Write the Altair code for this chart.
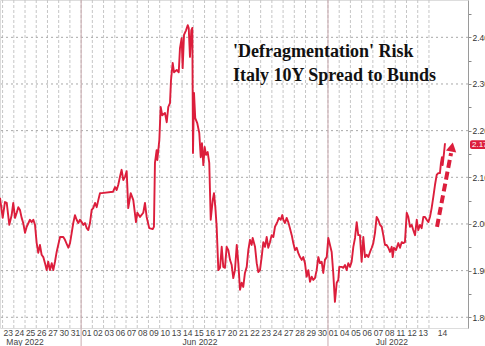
import altair as alt
import pandas as pd

# ---- data ----
# position in trading days (0 = start of 23 May) and spread (%)
t = [-0.23, 0.01, 0.21, 0.37, 0.60, 0.81, 0.95, 1.11, 1.26, 1.40, 1.55, 1.70, 1.84, 2.00, 2.15,
     2.44, 2.59, 2.74, 2.89, 3.04, 3.18, 3.33, 3.48, 3.63, 3.78, 3.93, 4.07, 4.22, 4.38, 4.52,
     4.67, 4.82, 5.12, 5.41, 5.56, 5.86, 6.01, 6.16, 6.30, 6.45, 6.60, 6.75, 6.90, 7.05, 7.19,
     7.34, 7.50, 7.64, 7.79, 7.94, 8.08, 8.24, 8.39, 8.53, 8.68, 8.83, 9.84, 10.02, 10.17, 10.31,
     10.46, 10.61, 10.76, 10.91, 11.06, 11.20, 11.42, 11.65, 11.89, 12.01, 12.25, 12.54, 12.69,
     12.84, 13.07, 13.38, 13.49, 13.58, 13.73, 13.79, 13.97, 14.09, 14.23, 14.47, 14.63, 14.77,
     14.92, 15.01, 15.16, 15.28, 15.52, 15.70, 15.81, 15.96, 16.05, 16.17, 16.35, 16.50, 16.59,
     16.70, 16.82, 16.91, 16.97, 17.06, 17.17, 17.35, 17.53, 17.66, 17.77, 17.89, 18.01, 18.13,
     18.28, 18.42, 18.55, 18.73, 18.84, 18.96, 19.08, 19.23, 19.38, 19.53, 19.67, 19.82, 19.97,
     20.12, 20.27, 20.42, 20.56, 20.71, 20.87, 21.01, 21.16, 21.31, 21.45, 21.60, 21.76, 21.90,
     22.05, 22.20, 22.29, 22.50, 22.65, 22.79, 22.94, 23.09, 23.24, 23.39, 23.54, 23.68, 23.83,
     23.98, 24.13, 24.28, 24.48, 24.63, 24.79, 24.93, 25.02, 25.17, 25.32, 25.46, 25.61, 25.77,
     25.91, 26.06, 26.21, 26.35, 26.51, 26.66, 26.80, 26.95, 27.10, 27.25, 27.40, 27.55, 27.69,
     27.84, 27.99, 28.14, 28.29, 28.44, 28.58, 28.73, 28.89, 29.03, 29.18, 29.33, 29.47, 29.62,
     29.78, 29.92, 30.01, 30.22, 30.37, 30.52, 30.67, 30.81, 30.96, 31.11, 31.26, 31.41, 31.56,
     31.70, 31.85, 32.00, 32.15, 32.30, 32.45, 32.59, 32.75, 32.90, 33.04, 33.19, 33.34, 33.48,
     33.64, 33.79, 33.93, 34.08, 34.23, 34.38, 34.53, 34.68, 34.77, 34.88, 35.06, 35.27, 35.42,
     35.57, 35.71, 35.86, 36.02, 36.16, 36.31, 36.46, 36.60, 36.76, 36.91, 37.05, 37.20, 37.35,
     37.50, 37.65, 37.80, 37.94, 38.09, 38.24, 38.39, 38.54, 38.69, 38.83, 38.98, 39.07, 39.16,
     39.22, 39.34, 39.43]
spread = [2.056, 2.013, 2.047, 2.045, 1.998, 2.019, 2.045, 2.013, 2.024, 2.036, 2.030, 2.013, 2.002,
          1.981, 1.994, 2.009, 2.004, 2.009, 1.998, 1.959, 1.938, 1.955, 1.934, 1.929, 1.916, 1.901,
          1.919, 1.901, 1.916, 1.901, 1.919, 1.940, 1.972, 1.972, 1.966, 1.949, 1.959, 1.981, 2.002,
          2.019, 2.009, 2.002, 2.009, 2.004, 1.998, 2.002, 1.991, 1.987, 2.002, 2.030, 2.034, 2.045,
          2.036, 2.051, 2.066, 2.066, 2.069, 2.079, 2.073, 2.084, 2.101, 2.116, 2.094, 2.101, 2.113,
          2.034, 2.066, 2.051, 2.004, 2.024, 2.015, 2.024, 2.045, 2.015, 1.991, 1.989, 1.994, 2.131,
          2.158, 2.137, 2.180, 2.251, 2.233, 2.238, 2.218, 2.251, 2.259, 2.308, 2.345, 2.325, 2.330,
          2.325, 2.377, 2.398, 2.334, 2.405, 2.415, 2.426, 2.420, 2.358, 2.415, 2.420, 2.152, 2.281,
          2.227, 2.216, 2.195, 2.143, 2.173, 2.126, 2.165, 2.148, 2.154, 2.131, 2.009, 2.051, 2.066,
          2.036, 1.994, 1.901, 1.906, 1.951, 1.908, 1.906, 1.951, 1.944, 1.923, 1.912, 1.884, 1.901,
          1.955, 1.916, 1.859, 1.874, 1.865, 1.895, 1.908, 1.944, 1.966, 1.955, 1.970, 1.951, 1.916,
          1.897, 1.901, 1.929, 1.961, 1.951, 1.972, 1.949, 1.961, 1.976, 1.972, 1.994, 2.004, 2.013,
          2.009, 2.019, 2.009, 2.002, 2.013, 2.004, 1.991, 1.976, 1.959, 1.944, 1.949, 1.938, 1.929,
          1.923, 1.929, 1.916, 1.887, 1.901, 1.876, 1.887, 1.880, 1.884, 1.901, 1.929, 1.916, 1.919,
          1.895, 1.923, 1.929, 1.970, 1.955, 1.940, 1.895, 1.833, 1.874, 1.880, 1.908, 1.908, 1.906,
          1.912, 1.901, 1.916, 1.908, 1.919, 1.951, 1.970, 2.004, 1.976, 1.976, 1.919, 1.972, 1.929,
          1.934, 1.929, 1.940, 1.949, 1.959, 1.981, 2.015, 2.009, 1.998, 1.994, 1.976, 1.955, 1.955,
          1.949, 1.940, 1.951, 1.929, 1.949, 1.944, 1.959, 1.949, 1.961, 1.959, 1.961, 2.024, 2.015,
          1.994, 1.998, 1.987, 1.976, 2.009, 1.987, 1.998, 1.991, 2.015, 2.015, 2.009, 2.004, 2.015,
          2.034, 2.058, 2.084, 2.105, 2.109, 2.109, 2.131, 2.143, 2.126, 2.152, 2.173]

day_labels = ["23", "24", "25", "26", "27", "30", "31", "01", "02", "03", "06", "07", "08", "09",
              "10", "13", "14", "15", "16", "17", "20", "21", "22", "23", "24", "27", "28", "29",
              "30", "01", "04", "05", "06", "07", "08", "11", "12", "13", "14"]
day_label_pos = [i + 0.5 for i in range(38)] + [39.2]
day_bounds = list(range(39))
month_labels = ["May 2022", "Jun 2022", "Jul 2022"]
month_label_pos = [2.0, 17.6, 34.7]
month_bounds = [7, 29]
y_grid = [1.80, 1.90, 2.00, 2.10, 2.20, 2.30, 2.40]
y_ticks = [1.80, 1.85, 1.90, 1.95, 2.00, 2.05, 2.10, 2.15, 2.20, 2.25, 2.30, 2.35, 2.40, 2.45]
arrow_t = [38.72, 39.97]
arrow_v = [1.994, 2.152]
arrow_head = (40.05, 2.165)
last_value = 2.17

RED = "#dc1e3c"
W, H = 468, 328

xs = alt.Scale(domain=[-0.23, 41.48], nice=False, zero=False)
ys = alt.Scale(domain=[1.777, 2.48], nice=False, zero=False)
yax = alt.Axis(
    orient="right", values=y_ticks, grid=False, title=None,
    labelExpr="abs(round(datum.value*100)) % 10 == 0 ? format(datum.value, '.2f') : ''",
    tickSize=3, tickColor="#888", domainColor="#9a9a9a", labelPadding=1,
    labelFont="Liberation Sans", labelFontSize=8.5, labelColor="#333")


def Y(field):
    return alt.Y(field, scale=ys, axis=yax)


def X(field):
    return alt.X(field, scale=xs, axis=None)


df = pd.DataFrame({"t": t, "v": spread})
grid_df = pd.DataFrame({"b": day_bounds})
hgrid_df = pd.DataFrame({"y": y_grid})
mon_df = pd.DataFrame({"b": month_bounds})
dl_df = pd.DataFrame({"x": day_label_pos, "lab": day_labels})
ml_df = pd.DataFrame({"x": month_label_pos, "lab": month_labels})
arrow_df = pd.DataFrame({"t": arrow_t, "v": arrow_v})
head_df = pd.DataFrame({"t": [arrow_head[0]], "v": [arrow_head[1]]})
tag_df = pd.DataFrame({"v": [last_value], "lo": [last_value - 0.0095], "hi": [last_value + 0.0095],
                       "lab": [f"{last_value:.2f}"]})
title_df = pd.DataFrame({"lab": [["'Defragmentation' Risk", "Italy 10Y Spread to Bunds"]]})

vgrid = alt.Chart(grid_df).mark_rule(color="#c6c6c6", strokeWidth=1, strokeDash=[3, 2]).encode(
    x=X("b:Q"))
hgrid = alt.Chart(hgrid_df).mark_rule(color="#a8a8a8", strokeWidth=1, strokeDash=[2, 3]).encode(
    y=Y("y:Q"))
mon = alt.Chart(mon_df).mark_rule(color="#c9a9ae", strokeWidth=1).encode(
    x=X("b:Q"), y=alt.value(0), y2=alt.value(H + 18))

line = alt.Chart(df).mark_line(color=RED, strokeWidth=1.9, strokeJoin="round").encode(
    x=X("t:Q"), y=Y("v:Q"))

arrow = alt.Chart(arrow_df).mark_line(color=RED, strokeWidth=4, strokeDash=[8, 4]).encode(
    x=X("t:Q"), y=Y("v:Q"))
head = alt.Chart(head_df).mark_point(shape="triangle-up", filled=True, color=RED, size=110,
                                     angle=11, opacity=1).encode(
    x=X("t:Q"), y=Y("v:Q"))

tag = alt.Chart(tag_df).mark_rect(color=RED, cornerRadius=2).encode(
    x=alt.value(W + 2), x2=alt.value(W + 30),
    y=Y("lo:Q"), y2="hi:Q")
tag_text = alt.Chart(tag_df).mark_text(color="white", align="left", baseline="middle",
                                       font="Liberation Sans", fontSize=8).encode(
    x=alt.value(W + 4), y=Y("v:Q"), text="lab:N")

day_text = alt.Chart(dl_df).mark_text(color="#444", baseline="alphabetic", align="center",
                                      font="Liberation Sans", fontSize=8.5).encode(
    x=X("x:Q"), y=alt.value(H + 8), text="lab:N")
mon_text = alt.Chart(ml_df).mark_text(color="#444", baseline="alphabetic", align="center",
                                      font="Liberation Sans", fontSize=8.5).encode(
    x=X("x:Q"), y=alt.value(H + 17), text="lab:N")

title = alt.Chart(title_df).mark_text(color="#111", align="left", baseline="alphabetic",
                                      font="Liberation Serif", fontSize=18, fontWeight="bold",
                                      lineHeight=24).encode(
    x=alt.value(233), y=alt.value(57), text="lab")

chart = alt.layer(vgrid, hgrid, mon, line, arrow, head, tag, tag_text, day_text, mon_text,
                  title).properties(
    width=W, height=H,
    autosize=alt.AutoSizeParams(type="none"),
    padding={"left": 0, "top": 0, "right": 17, "bottom": 18},
).configure_view(stroke=None).configure(background="white")

chart.save("out.html", embed_options={"renderer": "svg", "actions": False})
